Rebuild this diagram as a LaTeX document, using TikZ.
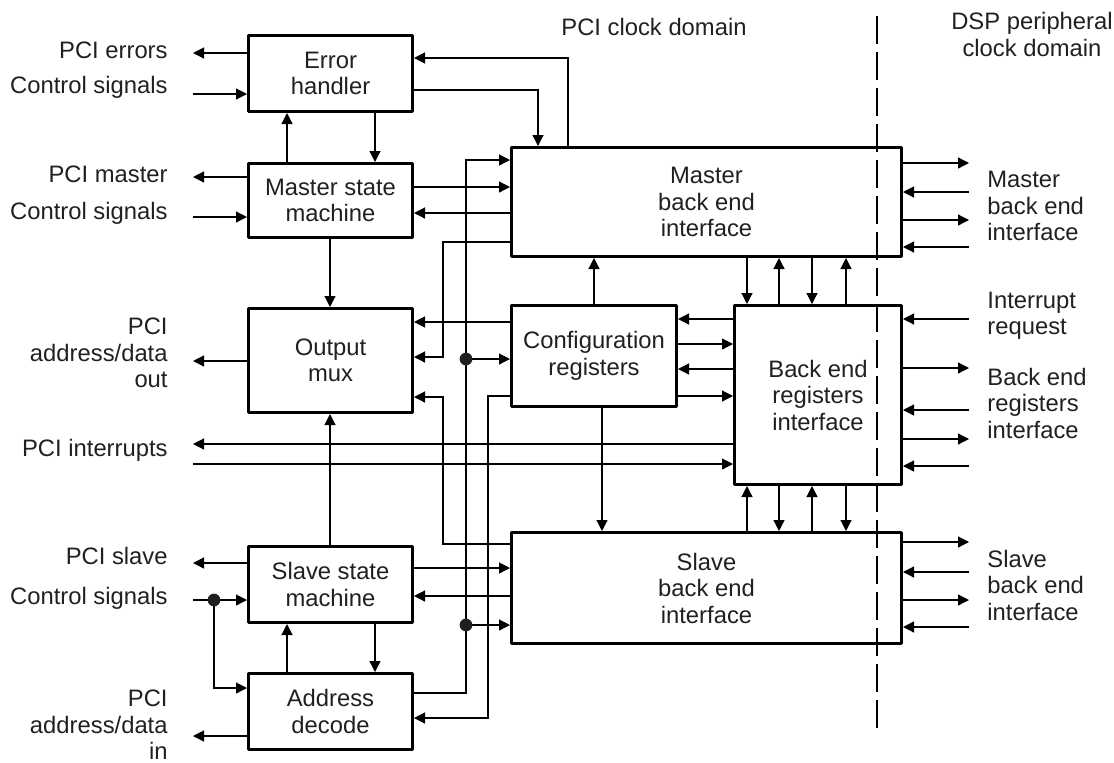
\documentclass[tikz,border=0pt]{standalone}
\usepackage{fontspec}
\setmainfont{Liberation Sans}
\usetikzlibrary{arrows.meta}
\definecolor{ink}{HTML}{231F20}
\newcommand{\diagfont}{\fontsize{11.9}{13.25}\selectfont}

\begin{document}
\begin{tikzpicture}[x=0.5pt,y=-0.5pt,
  blk/.style={draw=black, line width=1.4pt, line join=round, fill=white,
              inner sep=0pt, align=center, text=ink, font=\diagfont},
  wire/.style={draw=black, line width=0.6pt},
  arr/.style={wire, -{Triangle[length=5.5pt,width=5.5pt]}},
  lab/.style={text=ink, font=\diagfont, inner sep=0pt},
  junction/.style={fill=ink, draw=none},
  divider/.style={draw=black, line width=1.3pt, dash pattern=on 14pt off 4pt}
]
\useasboundingbox (0,0) rectangle (1114,762);

% ---------- blocks ----------
\node[blk, minimum width=82.1pt, minimum height=38.1pt] (err)  at (330.5,73.5)  {Error\\handler};
\node[blk, minimum width=82.1pt, minimum height=37.1pt] (msm)  at (330.5,200.5) {Master state\\machine};
\node[blk, minimum width=82.1pt, minimum height=52.1pt] (mux)  at (330.5,360.5) {Output\\mux};
\node[blk, minimum width=82.1pt, minimum height=38.1pt] (ssm)  at (330.5,584.5) {Slave state\\machine};
\node[blk, minimum width=82.1pt, minimum height=38.1pt] (adec) at (330.5,711.5) {Address\\decode};
\node[blk, minimum width=195.1pt, minimum height=54.6pt] (mbe) at (706.5,202) {Master\\back end\\interface};
\node[blk, minimum width=82.6pt, minimum height=50.6pt] (cfg) at (594,356) {Configuration\\registers};
\node[blk, minimum width=83.6pt, minimum height=89.6pt] (beri) at (818,395) {Back end\\registers\\interface};
\node[blk, minimum width=195.1pt, minimum height=55.6pt] (sbe) at (706.5,588) {Slave\\back end\\interface};

% ---------- headings ----------
\node[lab] (hpci) at (654,27) {PCI clock domain};
\node[lab, align=center] (hdsp) at (1032,34.5) {DSP peripheral\\clock domain};

% ---------- left-hand signal labels ----------
\node[lab, anchor=east] (lerr)  at (168,50)  {PCI errors};
\node[lab, anchor=east] (lcs1)  at (168,87)  {Control signals};
\node[lab, anchor=east] (lmst)  at (168,174) {PCI master};
\node[lab, anchor=east] (lcs2)  at (168,213) {Control signals};
\node[lab, anchor=east, align=right] (lado) at (168,353) {PCI\\address/data\\out};
\node[lab, anchor=east] (lint)  at (168,450) {PCI interrupts};
\node[lab, anchor=east] (lslv)  at (168,556) {PCI slave};
\node[lab, anchor=east] (lcs3)  at (168,598) {Control signals};
\node[lab, anchor=east, align=right] (ladi) at (168,725) {PCI\\address/data\\in};

% ---------- right-hand signal labels ----------
\node[lab, anchor=west, align=left] (rmbe)  at (987,206) {Master\\back end\\interface};
\node[lab, anchor=west, align=left] (rirq)  at (987,316) {Interrupt\\request};
\node[lab, anchor=west, align=left] (rberi) at (987,403) {Back end\\registers\\interface};
\node[lab, anchor=west, align=left] (rsbe)  at (987,585) {Slave\\back end\\interface};

% ---------- free ends of the external signals ----------
\foreach \n/\y in {a/53, b/94, c/177, d/217, e/361, f/444, g/464, h/563, i/600, k/736}
  \coordinate (L\n) at (193,\y);
\foreach \n/\y in {a/163, b/192, c/220, d/247, e/319, f/368, g/410, h/439, i/466,
                   k/542, l/572, m/600, n/627}
  \coordinate (R\n) at (969,\y);

% ---------- clock-domain divider ----------
\coordinate (divtop) at (877,16);
\coordinate (divbot) at (877,730);
\draw[divider] (divtop) -- (divbot);

% ---------- external signals, left ----------
\draw[arr] (err.west |- La) -- (La);
\draw[arr] (Lb) -- (err.west |- Lb);
\draw[arr] (msm.west |- Lc) -- (Lc);
\draw[arr] (Ld) -- (msm.west |- Ld);
\draw[arr] (mux.west |- Le) -- (Le);
\draw[arr] (beri.west |- Lf) -- (Lf);
\draw[arr] (Lg) -- (beri.west |- Lg);
\draw[arr] (ssm.west |- Lh) -- (Lh);
\coordinate (jcs) at (214,600);
\draw[arr] (Li) -- (ssm.west |- Li);
\draw[arr] (jcs) |- (adec.west |- 0,688);
\draw[arr] (adec.west |- Lk) -- (Lk);

% ---------- external signals, right ----------
\draw[arr] (mbe.east |- Ra) -- (Ra);
\draw[arr] (Rb) -- (mbe.east |- Rb);
\draw[arr] (mbe.east |- Rc) -- (Rc);
\draw[arr] (Rd) -- (mbe.east |- Rd);
\draw[arr] (Re) -- (beri.east |- Re);
\draw[arr] (beri.east |- Rf) -- (Rf);
\draw[arr] (Rg) -- (beri.east |- Rg);
\draw[arr] (beri.east |- Rh) -- (Rh);
\draw[arr] (Ri) -- (beri.east |- Ri);
\draw[arr] (sbe.east |- Rk) -- (Rk);
\draw[arr] (Rl) -- (sbe.east |- Rl);
\draw[arr] (sbe.east |- Rm) -- (Rm);
\draw[arr] (Rn) -- (sbe.east |- Rn);

% ---------- error handler and master state machine ----------
\draw[arr] (msm.north -| 287,0) -- (err.south -| 287,0);
\draw[arr] (err.south -| 375,0) -- (msm.north -| 375,0);
\draw[arr] (err.east |- 0,90) -| (mbe.north -| 538,0);
\draw[arr] (mbe.north -| 568,0) |- (err.east |- 0,58);
\draw[arr] (msm.east |- 0,187) -- (mbe.west |- 0,187);
\draw[arr] (mbe.west |- 0,213) -- (msm.east |- 0,213);
\draw[arr] (msm.south -| 330,0) -- (mux.north -| 330,0);

% ---------- slave state machine and address decode ----------
\draw[arr] (ssm.north -| 330,0) -- (mux.south -| 330,0);
\draw[arr] (adec.north -| 287,0) -- (ssm.south -| 287,0);
\draw[arr] (ssm.south -| 375,0) -- (adec.north -| 375,0);
\draw[arr] (ssm.east |- 0,568) -- (sbe.west |- 0,568);
\draw[arr] (sbe.west |- 0,596) -- (ssm.east |- 0,596);

% ---------- address bus from the decoder ----------
\coordinate (jcfg) at (466,359);
\coordinate (jsbe) at (466,625);
\draw[arr] (adec.east |- 0,693) -| (466,160) -- (mbe.west |- 0,160);
\draw[arr] (jcfg) -- (cfg.west |- jcfg);
\draw[arr] (jsbe) -- (sbe.west |- jsbe);

% ---------- data paths into the output mux ----------
\draw[arr] (cfg.west |- 0,322) -- (mux.east |- 0,322);
\draw[arr] (mbe.west |- 0,242) -| (443,357) -- (mux.east |- 0,357);
\draw[arr] (sbe.west |- 0,544) -| (443,397) -- (mux.east |- 0,397);
\draw[arr] (cfg.west |- 0,396) -| (488,718) -- (adec.east |- 0,718);

% ---------- configuration registers ----------
\draw[arr] (cfg.north -| 594,0) -- (mbe.south -| 594,0);
\draw[arr] (cfg.south -| 602,0) -- (sbe.north -| 602,0);
\draw[arr] (beri.west |- 0,319) -- (cfg.east |- 0,319);
\draw[arr] (cfg.east |- 0,344) -- (beri.west |- 0,344);
\draw[arr] (beri.west |- 0,369) -- (cfg.east |- 0,369);
\draw[arr] (cfg.east |- 0,396) -- (beri.west |- 0,396);

% ---------- back end registers interface ----------
\draw[arr] (mbe.south -| 747,0) -- (beri.north -| 747,0);
\draw[arr] (beri.north -| 779,0) -- (mbe.south -| 779,0);
\draw[arr] (mbe.south -| 812,0) -- (beri.north -| 812,0);
\draw[arr] (beri.north -| 846,0) -- (mbe.south -| 846,0);
\draw[arr] (sbe.north -| 747,0) -- (beri.south -| 747,0);
\draw[arr] (beri.south -| 779,0) -- (sbe.north -| 779,0);
\draw[arr] (sbe.north -| 812,0) -- (beri.south -| 812,0);
\draw[arr] (beri.south -| 846,0) -- (sbe.north -| 846,0);

% ---------- junction dots ----------
\fill[junction] (jcs)  circle[radius=3.2pt];
\fill[junction] (jcfg) circle[radius=3.2pt];
\fill[junction] (jsbe) circle[radius=3.2pt];
\end{tikzpicture}
\end{document}
